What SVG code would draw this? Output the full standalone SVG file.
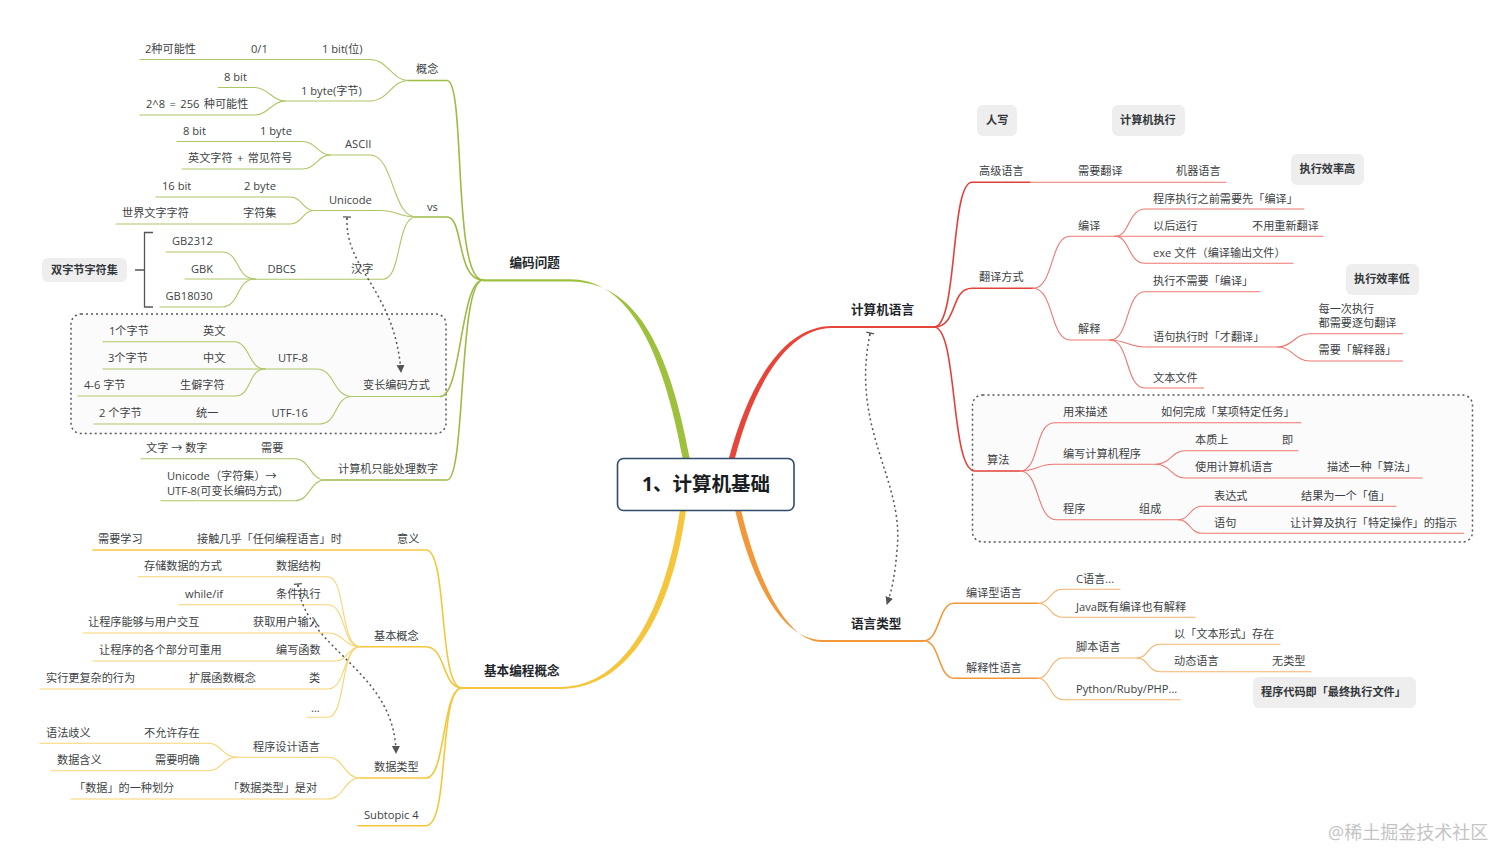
<svg xmlns="http://www.w3.org/2000/svg" width="1512" height="867" viewBox="0 0 1512 867">
<defs>
<style>
text{font-family:"Open Sans","Noto Sans CJK SC","Noto Sans",sans-serif;font-size:11.15px;fill:#3c3f44;dominant-baseline:central;transform:translateY(-.7px)}
.m{font-size:12.6px;font-weight:700;fill:#22262b}
.s{font-weight:700;fill:#33363a}
.c{font-size:19.5px;font-weight:700;fill:#1a1d22;text-anchor:middle}
.wm{font-size:18px;fill:#c4c4c4}
.t{fill:none;stroke-linecap:round}
.g1{stroke:#9dbb45;stroke-width:1.6}.g2{stroke:#adc665;stroke-width:1.1}
.y1{stroke:#f5c63c;stroke-width:1.6}.y2{stroke:#f8d470;stroke-width:1.1}
.r1{stroke:#e2413a;stroke-width:1.6}.r2{stroke:#ee7770;stroke-width:1.1}
.o1{stroke:#f2983a;stroke-width:1.6}.o2{stroke:#f6b36f;stroke-width:1.1}
.rel{fill:none;stroke:#555;stroke-width:1.5;stroke-dasharray:2 3}
.box{fill:#fbfbfb;stroke:#555;stroke-width:1.5;stroke-dasharray:2 3}
.lab{fill:#eeeeee}
</style>
<marker id="arr" markerUnits="userSpaceOnUse" markerWidth="10" markerHeight="10" refX="7" refY="4" orient="auto"><path d="M0,0L8,4L0,8Z" fill="#555"/></marker>
<marker id="tee" markerUnits="userSpaceOnUse" markerWidth="10" markerHeight="10" refX="2" refY="5" orient="auto"><path d="M1,1V9M1,5H4" stroke="#555" stroke-width="1.2" fill="none"/></marker>
</defs>
<rect width="1512" height="867" fill="#ffffff"/>
<rect class="box" x="71" y="314" width="375" height="119.500" rx="10"/>
<rect class="box" x="972.500" y="395" width="500" height="147" rx="10"/>
<g id="connectors">
<path fill="#9dc13c" d="M483,279.200H570C627,279.200 662,345 683,460L690,460C669,345 635,281.500 570,281.500H483Z"/>
<path fill="#f5c63c" d="M462,687H560C625,687 665,610 680,510L686,510C672,612 630,689 560,689H462Z"/>
<path fill="#e8453a" d="M934,326H832C785,326 750,380 729,458L735,458C754,384 788,328 832,328H934Z"/>
<path fill="#f2983a" d="M924,640H822C785,640 754,590 735,510L741,510C760,590 790,642 822,642H924Z"/>
<g class="t g1">
<path d="M408,80.500H447C466,80.500 452,280 483,280"/>
<path d="M416,217H447C464,217 456,280 483,280"/>
<path d="M440,396.500C462,396.500 460,280 483,280"/>
<path d="M325,480H447C466,480 458,280 483,280"/>
</g>
<g class="t g2">
<path d="M140,59.500H370C388,59.500 392,80.500 408,80.500"/>
<path d="M285,101H370C388,101 392,80.500 408,80.500"/>
<path d="M218,87.500H255C268,87.500 272,101 285,101"/>
<path d="M140,115H255C268,115 272,101 285,101"/>
<path d="M330,155H370C394,155 392,217 416,217"/>
<path d="M313,210.500H380C396,210.500 400,217 416,217"/>
<path d="M255,279.300H383C402,279.300 396,217 416,217"/>
<path d="M177,141.500H302C316,141.500 318,155 330,155"/>
<path d="M182,169H302C316,169 318,155 330,155"/>
<path d="M156,197H290C302,197 303,210.500 313,210.500"/>
<path d="M116,224H290C302,224 303,210.500 313,210.500"/>
<path d="M166,252H222C240,252 236,279 255,279"/>
<path d="M185,279H255"/>
<path d="M160,307H222C240,307 236,279 255,279"/>
<path d="M265,369H316C336,369 332,396.500 352,396.500H440"/>
<path d="M103,341.700H234C250,341.700 248,369 265,369"/>
<path d="M103,369H265"/>
<path d="M78,396H235C252,396 248,369 265,369"/>
<path d="M94,424H320C338,424 334,396.500 352,396.500"/>
<path d="M141,458.700H295C310,458.700 310,480 325,480"/>
<path d="M161,500.700H295C310,500.700 310,480 325,480"/>
</g>
<g class="t y1">
<path d="M93,550H426C448,550 438,688 462,688"/>
<path d="M360,646.700H426C446,646.700 442,688 462,688"/>
<path d="M360,778H426C446,778 442,688 462,688"/>
<path d="M358,825.700H426C450,825.700 438,688 462,688"/>
</g>
<g class="t y2">
<path d="M138,576.700H328C346,576.700 340,646.700 360,646.700"/>
<path d="M179,604.700H328C346,604.700 342,646.700 360,646.700"/>
<path d="M83,633H328C344,633 344,646.700 360,646.700"/>
<path d="M93,661H335C348,661 348,646.700 360,646.700"/>
<path d="M40,689H328C346,689 344,646.700 360,646.700"/>
<path d="M307,717.300H328C346,717.300 340,646.700 360,646.700"/>
<path d="M237,757.300H328C344,757.300 344,778 360,778"/>
<path d="M71,799H328C344,799 344,778 360,778"/>
<path d="M40,743.300H208C222,743.300 222,757.300 237,757.300"/>
<path d="M51,770.700H208C222,770.700 222,757.300 237,757.300"/>
</g>
<g class="t r1">
<path d="M934,327C958,327 950,182.300 972,182.300H1030"/>
<path d="M934,327C958,327 950,288.300 972,288.300H1033"/>
<path d="M934,327C958,327 950,471 975,471H1020"/>
</g>
<g class="t r2">
<path d="M1030,182.300H1226"/>
<path d="M1033,288.300C1054,288.300 1050,236.300 1070,236.300H1115"/>
<path d="M1033,288.300C1054,288.300 1050,340 1070,340H1110"/>
<path d="M1115,236.300C1130,236.300 1128,209 1145,209H1304"/>
<path d="M1115,236.300H1323"/>
<path d="M1115,236.300C1130,236.300 1128,263.300 1145,263.300H1293"/>
<path d="M1110,340C1130,340 1125,291.700 1145,291.700H1260"/>
<path d="M1110,340C1125,340 1130,347 1145,347H1278"/>
<path d="M1110,340C1130,340 1125,388 1145,388H1203.600"/>
<path d="M1278,347C1292,347 1295,333.700 1310,333.700H1402.600"/>
<path d="M1278,347C1292,347 1295,361 1310,361H1402.600"/>
<path d="M1020,471C1040,471 1034,422.700 1054.500,422.700H1301"/>
<path d="M1020,471C1036,471 1038,464.300 1054,464.300H1156"/>
<path d="M1020,471C1040,471 1036,519.700 1056,519.700H1178"/>
<path d="M1156,464.300C1170,464.300 1172,450.700 1185,450.700H1298"/>
<path d="M1156,464.300C1170,464.300 1172,478 1185,478H1422"/>
<path d="M1178,519.700C1190,519.700 1190,506.300 1202,506.300H1396"/>
<path d="M1178,519.700C1190,519.700 1190,533.300 1202,533.300H1463.600"/>
</g>
<g class="t o1">
<path d="M924,640.700C940,640.700 938,603.300 954,603.300H1038"/>
<path d="M924,640.700C940,640.700 938,678.300 954,678.300H1038"/>
</g>
<g class="t o2">
<path d="M1038,603.300C1050,603.300 1050,589.300 1063,589.300H1120"/>
<path d="M1038,603.300C1050,603.300 1050,617.300 1063,617.300H1195"/>
<path d="M1038,678.300C1050,678.300 1050,658 1063,658H1137"/>
<path d="M1038,678.300C1050,678.300 1050,699.700 1063,699.700H1180"/>
<path d="M1137,658C1148,658 1148,644.300 1160,644.300H1280"/>
<path d="M1137,658C1148,658 1148,671.700 1160,671.700H1311"/>
</g>
<path fill="none" stroke="#555" stroke-width="1.300" d="M153,232.500H144.500V307H153M135,270H144.500"/>
<path class="rel" marker-start="url(#tee)" marker-end="url(#arr)" d="M347,218C345,270 395,290 401,372"/>
<path class="rel" marker-start="url(#tee)" marker-end="url(#arr)" d="M298,585C305,650 395,670 396,753"/>
<path class="rel" marker-start="url(#tee)" marker-end="url(#arr)" d="M870,334C850,430 905,480 897,550C895,575 892,590 887,604"/>
</g>
<g id="center"><rect x="617.500" y="458.500" width="176.500" height="52" rx="6" fill="#fff" stroke="#2f4a6b" stroke-width="1.600"/><text class="c" x="706" y="484">1、计算机基础</text></g>
<g id="n1"><text class="m" x="509.500" y="263.500">编码问题</text></g>
<g id="n2"><text x="145" y="49">2种可能性</text></g>
<g id="n3"><text x="251" y="49">0/1</text></g>
<g id="n4"><text x="322" y="49">1 bit(位)</text></g>
<g id="n5"><text x="416" y="69">概念</text></g>
<g id="n6"><text x="224" y="77">8 bit</text></g>
<g id="n7"><text x="301" y="91">1 byte(字节)</text></g>
<g id="n8"><text x="146" y="104" word-spacing="1.500">2^8 = 256 种可能性</text></g>
<g id="n9"><text x="183" y="131">8 bit</text></g>
<g id="n10"><text x="260" y="131">1 byte</text></g>
<g id="n11"><text x="345" y="144.500">ASCII</text></g>
<g id="n12"><text x="188" y="158" word-spacing="1.500">英文字符 + 常见符号</text></g>
<g id="n13"><text x="162" y="186.500">16 bit</text></g>
<g id="n14"><text x="244" y="186.500">2 byte</text></g>
<g id="n15"><text x="329" y="200">Unicode</text></g>
<g id="n16"><text x="427" y="207">vs</text></g>
<g id="n17"><text x="122" y="213.500">世界文字字符</text></g>
<g id="n18"><text x="243" y="213.500">字符集</text></g>
<g id="n19"><text x="172" y="241.500">GB2312</text></g>
<g id="n20"><text x="191" y="269">GBK</text></g>
<g id="n21"><text x="267.500" y="269">DBCS</text></g>
<g id="n22"><text x="351" y="269">汉字</text></g>
<g id="n23"><text x="165.500" y="296">GB18030</text></g>
<g id="n24"><rect class="lab" x="42" y="258" width="85" height="24" rx="6"/><text class="s" x="51" y="270">双字节字符集</text></g>
<g id="n25"><text x="109" y="331">1个字节</text></g>
<g id="n26"><text x="203" y="331">英文</text></g>
<g id="n27"><text x="108" y="358">3个字节</text></g>
<g id="n28"><text x="203" y="358">中文</text></g>
<g id="n29"><text x="278" y="358">UTF-8</text></g>
<g id="n30"><text x="84" y="385">4-6 字节</text></g>
<g id="n31"><text x="180" y="385">生僻字符</text></g>
<g id="n32"><text x="363" y="385.500">变长编码方式</text></g>
<g id="n33"><text x="99" y="413">2 个字节</text></g>
<g id="n34"><text x="196" y="413">统一</text></g>
<g id="n35"><text x="271.500" y="413">UTF-16</text></g>
<g id="n36"><text x="146" y="448">文字 → 数字</text></g>
<g id="n37"><text x="261" y="448">需要</text></g>
<g id="n38"><text x="338" y="469">计算机只能处理数字</text></g>
<g id="n39"><text x="167" y="476">Unicode（字符集）→</text><text x="167" y="491">UTF-8(可变长编码方式)</text></g>
<g id="n40"><text class="m" x="484" y="671">基本编程概念</text></g>
<g id="n41"><text x="98" y="539">需要学习</text></g>
<g id="n42"><text x="197" y="539">接触几乎「任何编程语言」时</text></g>
<g id="n43"><text x="397" y="539">意义</text></g>
<g id="n44"><text x="144" y="566">存储数据的方式</text></g>
<g id="n45"><text x="276" y="566">数据结构</text></g>
<g id="n46"><text x="185" y="594">while/if</text></g>
<g id="n47"><text x="276" y="594">条件执行</text></g>
<g id="n48"><text x="88" y="622">让程序能够与用户交互</text></g>
<g id="n49"><text x="253" y="622">获取用户输入</text></g>
<g id="n50"><text x="99" y="650">让程序的各个部分可重用</text></g>
<g id="n51"><text x="276" y="650">编写函数</text></g>
<g id="n52"><text x="46" y="678">实行更复杂的行为</text></g>
<g id="n53"><text x="189" y="678">扩展函数概念</text></g>
<g id="n54"><text x="309" y="678">类</text></g>
<g id="n55"><text x="311" y="708">...</text></g>
<g id="n56"><text x="374" y="636">基本概念</text></g>
<g id="n57"><text x="46" y="733">语法歧义</text></g>
<g id="n58"><text x="144" y="733">不允许存在</text></g>
<g id="n59"><text x="253" y="747">程序设计语言</text></g>
<g id="n60"><text x="57" y="760">数据含义</text></g>
<g id="n61"><text x="155" y="760">需要明确</text></g>
<g id="n62"><text x="374" y="767">数据类型</text></g>
<g id="n63"><text x="74" y="788">「数据」的一种划分</text></g>
<g id="n64"><text x="228" y="788">「数据类型」是对</text></g>
<g id="n65"><text x="364" y="815">Subtopic 4</text></g>
<g id="n66"><text class="m" x="851" y="310">计算机语言</text></g>
<g id="n67"><rect class="lab" x="977" y="105" width="40" height="31" rx="6"/><text class="s" x="986" y="120.500">人写</text></g>
<g id="n68"><rect class="lab" x="1112" y="105" width="73" height="31" rx="6"/><text class="s" x="1120" y="120.500">计算机执行</text></g>
<g id="n69"><rect class="lab" x="1291" y="154" width="73" height="31" rx="6"/><text class="s" x="1299.500" y="169.500">执行效率高</text></g>
<g id="n70"><rect class="lab" x="1346" y="264" width="73" height="31" rx="6"/><text class="s" x="1354" y="279.500">执行效率低</text></g>
<g id="n71"><text x="979" y="171.500">高级语言</text></g>
<g id="n72"><text x="1078" y="171.500">需要翻译</text></g>
<g id="n73"><text x="1176" y="171.500">机器语言</text></g>
<g id="n74"><text x="979" y="277.500">翻译方式</text></g>
<g id="n75"><text x="1078" y="226">编译</text></g>
<g id="n76"><text x="1078" y="329">解释</text></g>
<g id="n77"><text x="1153" y="199">程序执行之前需要先「编译」</text></g>
<g id="n78"><text x="1153" y="226">以后运行</text></g>
<g id="n79"><text x="1252" y="226">不用重新翻译</text></g>
<g id="n80"><text x="1153" y="253">exe 文件（编译输出文件）</text></g>
<g id="n81"><text x="1153" y="281.500">执行不需要「编译」</text></g>
<g id="n82"><text x="1318.500" y="309">每一次执行</text><text x="1318.500" y="323">都需要逐句翻译</text></g>
<g id="n83"><text x="1153" y="337">语句执行时「才翻译」</text></g>
<g id="n84"><text x="1318.500" y="350.500">需要「解释器」</text></g>
<g id="n85"><text x="1153" y="378">文本文件</text></g>
<g id="n86"><text x="987" y="460.500">算法</text></g>
<g id="n87"><text x="1063" y="412">用来描述</text></g>
<g id="n88"><text x="1161" y="412">如何完成「某项特定任务」</text></g>
<g id="n89"><text x="1063" y="454">编写计算机程序</text></g>
<g id="n90"><text x="1195" y="440">本质上</text></g>
<g id="n91"><text x="1282" y="440">即</text></g>
<g id="n92"><text x="1195" y="467.500">使用计算机语言</text></g>
<g id="n93"><text x="1327" y="467.500">描述一种「算法」</text></g>
<g id="n94"><text x="1063" y="509.500">程序</text></g>
<g id="n95"><text x="1139" y="509.500">组成</text></g>
<g id="n96"><text x="1214" y="496">表达式</text></g>
<g id="n97"><text x="1301" y="496">结果为一个「值」</text></g>
<g id="n98"><text x="1214" y="523">语句</text></g>
<g id="n99"><text x="1290" y="523">让计算及执行「特定操作」的指示</text></g>
<g id="n100"><text class="m" x="851" y="624">语言类型</text></g>
<g id="n101"><text x="966" y="593">编译型语言</text></g>
<g id="n102"><text x="966" y="668">解释性语言</text></g>
<g id="n103"><text x="1076" y="579">C语言...</text></g>
<g id="n104"><text x="1076" y="607">Java既有编译也有解释</text></g>
<g id="n105"><text x="1076" y="647.500">脚本语言</text></g>
<g id="n106"><text x="1174" y="634">以「文本形式」存在</text></g>
<g id="n107"><text x="1174" y="661">动态语言</text></g>
<g id="n108"><text x="1272" y="661">无类型</text></g>
<g id="n109"><text x="1076" y="689">Python/Ruby/PHP...</text></g>
<g id="n110"><rect class="lab" x="1253" y="677" width="163" height="31" rx="6"/><text class="s" x="1261" y="692.500">程序代码即「最终执行文件」</text></g>
<text class="wm" x="1328" y="833">@稀土掘金技术社区</text>
</svg>
